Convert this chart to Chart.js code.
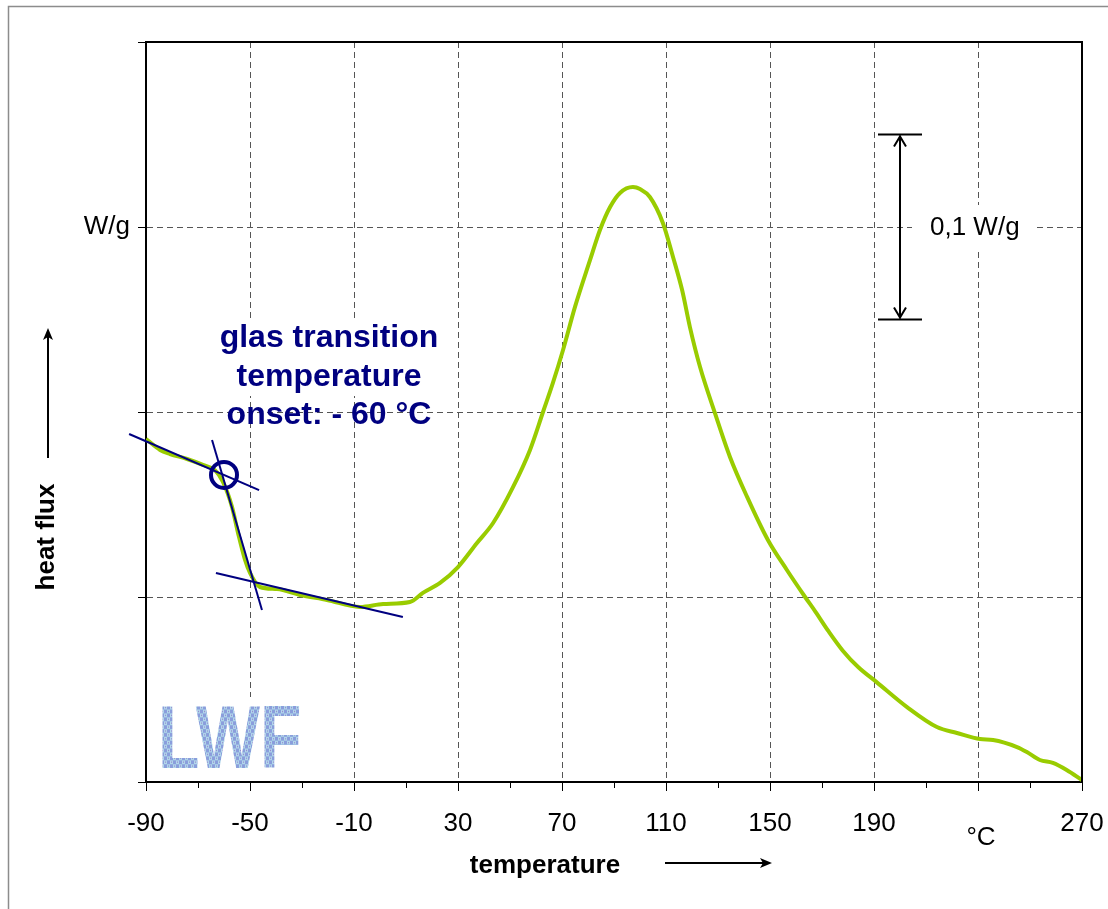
<!DOCTYPE html>
<html>
<head>
<meta charset="utf-8">
<title>DSC heat flux</title>
<script src="https://cdn.jsdelivr.net/npm/chart.js@4.4.0/dist/chart.umd.min.js"></script>
<style>
  html, body { margin: 0; padding: 0; background: #fff; }
  canvas { display: block; }
</style>
</head>
<body>
<canvas id="dsc" width="1108" height="909"></canvas>
<script>
// --- measured curve (temperature in °C, heat flux in W/g, relative) ---
const temperature = [-90, -84.6, -80.8, -74.2, -68.1, -63.5, -60.4, -56.9, -54.6, -51.9, -50, -46.2, -39.6, -30.8, -20.4, -7.7, 1.2, 11.5, 16.5, 23.1, 30, 37.3, 43.5, 51.2, 57.7, 62.7, 66.5, 70.4, 75, 80.8, 84.6, 88.5, 92.3, 97.3, 100, 103.8, 108.8, 112.7, 116.2, 119.2, 123.1, 128.8, 134.6, 141.2, 149.2, 156.5, 163.5, 167.5, 172.5, 178, 184, 191, 202.7, 214.2, 221.9, 230.8, 235.8, 245, 248.8, 253.8, 258.8, 264.1, 270];
const heatFlux = [0.1854, 0.1795, 0.1773, 0.1746, 0.1714, 0.1686, 0.1622, 0.1486, 0.1346, 0.1200, 0.1130, 0.1054, 0.1043, 0.1011, 0.0984, 0.0946, 0.0962, 0.0973, 0.1022, 0.1076, 0.1162, 0.1292, 0.1400, 0.1595, 0.1795, 0.2000, 0.2157, 0.2335, 0.2568, 0.2822, 0.2984, 0.3108, 0.3184, 0.3216, 0.3205, 0.3162, 0.3022, 0.2838, 0.2659, 0.2459, 0.2243, 0.1995, 0.1757, 0.1541, 0.1308, 0.1146, 0.1000, 0.0920, 0.0815, 0.0710, 0.0620, 0.0540, 0.0405, 0.0297, 0.0265, 0.0232, 0.0227, 0.0189, 0.0162, 0.0119, 0.0103, 0.0065, 0.0011];

// tangent construction for the glass transition
const tangentBeforeX = [-96.5, -46.5];
const tangentBeforeY = [0.1881, 0.1578];
const tangentStepX = [-64.6, -45.4];
const tangentStepY = [0.1849, 0.0930];
const tangentAfterX = [-63.1, 8.8];
const tangentAfterY = [0.1130, 0.0892];
const onsetX = [-60];
const onsetY = [0.166];

// axes
const xMin = -90, xMax = 270, xStep = 20;
const xLabelValues = [-90, -50, -10, 30, 70, 110, 150, 190, 270];
const xUnitAt = 230;               // "°C" sits in place of this label
const yTickLabels = ['', '', '', 'W/g', ''];
const yMin = 0, yMax = 0.4, yStep = 0.1;

// 0,1 W/g scale bar
const scaleBarX = 200;
const scaleBarY = [0.25, 0.35];

const FONT = 'Arial, "Liberation Sans", sans-serif';
const NAVY = '#000080';
const GREEN = '#99cc00';
Chart.defaults.font.family = FONT;

const pts = (xs, ys) => xs.map((v, i) => ({ x: v, y: ys[i] }));
const isMajor = v => Math.round(v - xMin) % 40 === 0;

function arrowHead(ctx, x, y, dir) {
  // small filled arrow head pointing in dir ('up' | 'right')
  ctx.beginPath();
  if (dir === 'up') {
    ctx.moveTo(x, y); ctx.lineTo(x - 5, y + 12); ctx.lineTo(x, y + 9); ctx.lineTo(x + 5, y + 12);
  } else {
    ctx.moveTo(x, y); ctx.lineTo(x - 12, y - 5); ctx.lineTo(x - 9, y); ctx.lineTo(x - 12, y + 5);
  }
  ctx.closePath();
  ctx.fill();
}

function logoPattern(ctx) {
  const c = document.createElement('canvas');
  c.width = 6; c.height = 6;
  const p = c.getContext('2d');
  p.fillStyle = '#8a9edc'; p.fillRect(0, 0, 6, 6);
  p.fillStyle = '#b0d8ea'; p.fillRect(0, 0, 3, 3); p.fillRect(3, 3, 3, 3);
  p.fillStyle = '#9c88d2'; p.fillRect(1, 1, 1, 1); p.fillRect(4, 4, 1, 1);
  return ctx.createPattern(c, 'repeat');
}

const decor = {
  id: 'decor',
  afterDraw(chart) {
    const { ctx, chartArea: a, scales: { x, y } } = chart;
    ctx.save();

    // page frame (top and left only)
    ctx.strokeStyle = '#8c8c8c';
    ctx.lineWidth = 1.5;
    ctx.beginPath();
    ctx.moveTo(8.5, chart.height); ctx.lineTo(8.5, 6.5); ctx.lineTo(chart.width, 6.5);
    ctx.stroke();

    // plot frame top / right
    ctx.strokeStyle = '#000';
    ctx.lineWidth = 2;
    ctx.beginPath();
    ctx.moveTo(a.left, a.top); ctx.lineTo(a.right, a.top); ctx.lineTo(a.right, a.bottom);
    ctx.stroke();

    // minor ticks on the temperature axis
    ctx.lineWidth = 1;
    for (let v = xMin; v <= xMax; v += xStep) {
      if (isMajor(v)) continue;
      const px = Math.round(x.getPixelForValue(v)) + 0.5;
      ctx.beginPath(); ctx.moveTo(px, a.bottom); ctx.lineTo(px, a.bottom + 6); ctx.stroke();
    }

    ctx.fillStyle = '#000';
    ctx.font = '26px ' + FONT;
    ctx.textAlign = 'center';
    ctx.textBaseline = 'alphabetic';
    ctx.fillText('°C', x.getPixelForValue(xUnitAt) + 3, 845);

    // axis titles with arrows
    ctx.font = 'bold 26px ' + FONT;
    ctx.fillText('temperature', 545, 873);
    ctx.lineWidth = 2;
    ctx.beginPath(); ctx.moveTo(665, 863); ctx.lineTo(765, 863); ctx.stroke();
    arrowHead(ctx, 772, 863, 'right');

    ctx.save();
    ctx.translate(54, 537);
    ctx.rotate(-Math.PI / 2);
    ctx.fillText('heat flux', 0, 0);
    ctx.restore();
    ctx.beginPath(); ctx.moveTo(48, 458); ctx.lineTo(48, 336); ctx.stroke();
    arrowHead(ctx, 48, 328, 'up');

    // scale bar
    const bx = x.getPixelForValue(scaleBarX);
    const bTop = y.getPixelForValue(scaleBarY[1]);
    const bBot = y.getPixelForValue(scaleBarY[0]);
    ctx.lineWidth = 2;
    ctx.beginPath();
    ctx.moveTo(bx - 22, bTop); ctx.lineTo(bx + 22, bTop);
    ctx.moveTo(bx - 22, bBot); ctx.lineTo(bx + 22, bBot);
    ctx.moveTo(bx, bTop + 2); ctx.lineTo(bx, bBot - 2);
    ctx.moveTo(bx - 6, bTop + 12); ctx.lineTo(bx, bTop + 2); ctx.lineTo(bx + 6, bTop + 12);
    ctx.moveTo(bx - 6, bBot - 12); ctx.lineTo(bx, bBot - 2); ctx.lineTo(bx + 6, bBot - 12);
    ctx.stroke();
    const labelY = (bTop + bBot) / 2;
    ctx.fillStyle = '#fff';
    ctx.fillRect(912, labelY - 22, 121, 45);
    ctx.fillStyle = '#000';
    ctx.font = '26px ' + FONT;
    ctx.textAlign = 'left';
    ctx.textBaseline = 'middle';
    ctx.fillText('0,1 W/g', 930, labelY + 1);

    // glass transition note
    ctx.fillStyle = '#fff';
    ctx.fillRect(216, 322, 226, 74);
    ctx.fillStyle = NAVY;
    ctx.font = 'bold 32px ' + FONT;
    ctx.textAlign = 'center';
    ctx.textBaseline = 'middle';
    ctx.fillText('glas transition', 329, 338);
    ctx.fillText('temperature', 329, 377);
    ctx.fillText('onset: - 60 °C', 329, 415);

    // LWF logo
    ctx.fillStyle = '#fff';
    ctx.fillRect(154, 697, 158, 83);
    ctx.save();
    ctx.translate(158, 768);
    ctx.scale(1, 1.3);
    ctx.font = 'bold 68px ' + FONT;
    ctx.textAlign = 'left';
    ctx.textBaseline = 'alphabetic';
    ctx.fillStyle = logoPattern(ctx);
    ctx.fillText('LWF', 0, 0);
    ctx.restore();

    ctx.restore();
  }
};

new Chart(document.getElementById('dsc'), {
  type: 'scatter',
  data: {
    datasets: [
      {
        data: pts(temperature, heatFlux),
        showLine: true,
        borderColor: GREEN,
        borderWidth: 4,
        pointRadius: 0,
        cubicInterpolationMode: 'monotone',
        order: 3
      },
      { data: pts(tangentBeforeX, tangentBeforeY), showLine: true, borderColor: NAVY, borderWidth: 2, pointRadius: 0, clip: false, order: 2 },
      { data: pts(tangentStepX, tangentStepY), showLine: true, borderColor: NAVY, borderWidth: 2, pointRadius: 0, clip: false, order: 2 },
      { data: pts(tangentAfterX, tangentAfterY), showLine: true, borderColor: NAVY, borderWidth: 2, pointRadius: 0, clip: false, order: 2 },
      {
        data: pts(onsetX, onsetY),
        pointRadius: 13,
        pointBorderWidth: 4,
        pointBorderColor: NAVY,
        pointBackgroundColor: 'rgba(0,0,0,0)',
        order: 1
      }
    ]
  },
  options: {
    responsive: false,
    animation: false,
    devicePixelRatio: 1,
    events: [],
    layout: { padding: { top: 42, right: 26, left: 0, bottom: 0 } },
    plugins: { legend: { display: false }, tooltip: { enabled: false } },
    scales: {
      x: {
        type: 'linear',
        min: xMin,
        max: xMax,
        afterFit: s => { s.height = 127; s.paddingLeft = 0; s.paddingRight = 0; },
        afterBuildTicks: s => {
          s.ticks = [];
          for (let v = xMin; v <= xMax; v += xStep) s.ticks.push({ value: v });
        },
        ticks: {
          autoSkip: false,
          maxRotation: 0,
          padding: 17,
          color: '#000',
          font: { size: 26 },
          callback: v => (xLabelValues.includes(v) ? String(v) : '')
        },
        grid: {
          lineWidth: 1,
          color: c => (isMajor(c.tick.value) && c.tick.value !== xMin && c.tick.value !== xMax ? '#555' : 'rgba(0,0,0,0)'),
          tickColor: c => (isMajor(c.tick.value) ? '#000' : 'rgba(0,0,0,0)'),
          tickLength: 9,
          tickBorderDash: []
        },
        border: { display: true, color: '#000', width: 2, dash: [6, 4] }
      },
      y: {
        type: 'linear',
        min: yMin,
        max: yMax,
        afterFit: s => { s.width = 146; s.paddingTop = 0; s.paddingBottom = 0; },
        ticks: {
          stepSize: yStep,
          padding: 8,
          color: '#000',
          font: { size: 26 },
          callback: (v, i) => yTickLabels[i]
        },
        grid: {
          lineWidth: 1,
          color: c => (c.index > 0 && c.index < yTickLabels.length - 1 ? '#555' : 'rgba(0,0,0,0)'),
          tickColor: '#000',
          tickLength: 8,
          tickBorderDash: []
        },
        border: { display: true, color: '#000', width: 2, dash: [6, 4] }
      }
    }
  },
  plugins: [decor]
});
</script>
</body>
</html>
